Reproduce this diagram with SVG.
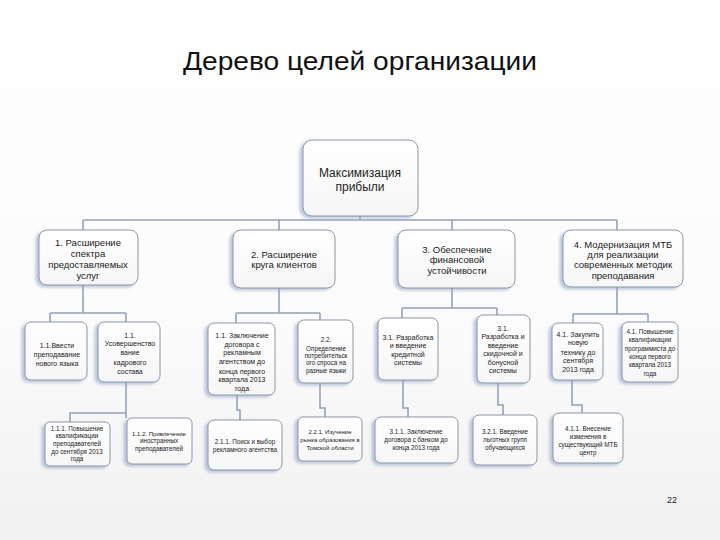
<svg xmlns="http://www.w3.org/2000/svg" width="720" height="540" viewBox="0 0 720 540">
<defs>
<linearGradient id="bg" x1="0" y1="0" x2="0" y2="1"><stop offset="0" stop-color="#ffffff"/><stop offset="0.6" stop-color="#fbfbfb"/><stop offset="1" stop-color="#f1f1f1"/></linearGradient>
<linearGradient id="boxfill" x1="0" y1="0" x2="0" y2="1"><stop offset="0" stop-color="#ffffff"/><stop offset="1" stop-color="#f6f6f6"/></linearGradient>
<filter id="sh" x="-20%" y="-20%" width="140%" height="140%"><feDropShadow dx="-3" dy="2" stdDeviation="1.6" flood-color="#8ea3c8" flood-opacity="0.6"/></filter>
</defs>
<style>
.box{fill:url(#boxfill);stroke:#8e97a5;stroke-width:1;filter:url(#sh)}
.con{fill:none;stroke:#93a3ba;stroke-width:1.6}
text{font-family:"Liberation Sans",Arial,sans-serif;fill:#222;text-anchor:middle}
.t0{font-size:12px}
.t1{font-size:9.5px}
.t2{font-size:7px}
.t3{font-size:6.3px}
.t3s{font-size:6px}
.title{font-size:25px;fill:#111}
</style>
<rect width="720" height="540" fill="url(#bg)"/>
<text class="title" x="360" y="70" textLength="354" lengthAdjust="spacingAndGlyphs">Дерево целей организации</text>

<g id="connectors">
<path class="con" d="M360 216V220M83 220H617M83 220V230M279 220V230M452 220V230M617 220V230"/>
<path class="con" d="M83 285V313M50 313H126M50 313V322M126 313V322"/>
<path class="con" d="M126 382V413H70V422M126 413V418"/>
<path class="con" d="M279 288V313M236 313H320M236 313V323M320 313V320"/>
<path class="con" d="M237 395V410H240V420M320 383V408H325V417"/>
<path class="con" d="M452 288V308M402 308H497M402 308V318M497 308V315"/>
<path class="con" d="M403 380V408H408V417M498 383V405H503V415"/>
<path class="con" d="M617 287V314M573 314H648M573 314V323M648 314V322"/>
<path class="con" d="M572 380V405H582V413"/>
</g>

<g id="n0"><rect class="box" x="303" y="140" width="115" height="76" rx="9"/>
<text class="t0" x="360" y="177">Максимизация</text><text class="t0" x="360" y="191">прибыли</text></g>

<g id="n1"><rect class="box" x="39" y="230" width="99" height="55" rx="8"/>
<text class="t1" x="88" y="246">1. Расширение</text><text class="t1" x="88" y="257">спектра</text><text class="t1" x="88" y="268">предоставляемых</text><text class="t1" x="88" y="279">услуг</text></g>

<g id="n2"><rect class="box" x="233" y="230" width="102" height="58" rx="8"/>
<text class="t1" x="284" y="258">2. Расширение</text><text class="t1" x="284" y="268">круга клиентов</text></g>

<g id="n3"><rect class="box" x="398" y="230" width="117" height="58" rx="8"/>
<text class="t1" x="457" y="253">3. Обеспечение</text><text class="t1" x="457" y="263">финансовой</text><text class="t1" x="457" y="274">устойчивости</text></g>

<g id="n4"><rect class="box" x="563" y="230" width="120" height="57" rx="8"/>
<text class="t1" x="623" y="248">4. Модернизация МТБ</text><text class="t1" x="623" y="258">для реализации</text><text class="t1" x="623" y="268">современных методик</text><text class="t1" x="623" y="279">преподавания</text></g>

<g id="n11"><rect class="box" x="25" y="322" width="62" height="58" rx="6"/>
<text class="t2" x="57" y="348">1.1.Ввести</text><text class="t2" x="57" y="357">преподавание</text><text class="t2" x="57" y="366">нового языка</text></g>

<g id="n12"><rect class="box" x="98" y="322" width="62" height="60" rx="6"/>
<text class="t2" x="130" y="338">1.1.</text><text class="t2" x="130" y="346">Усовершенство</text><text class="t2" x="130" y="355">вание</text><text class="t2" x="130" y="365">кадрового</text><text class="t2" x="130" y="374">состава</text></g>

<g id="n21"><rect class="box" x="208" y="323" width="67" height="72" rx="6"/>
<text class="t2" x="242" y="338">1.1. Заключение</text><text class="t2" x="242" y="347">договора с</text><text class="t2" x="242" y="355">рекламным</text><text class="t2" x="242" y="364">агентством до</text><text class="t2" x="242" y="374">конца первого</text><text class="t2" x="242" y="382">квартала 2013</text><text class="t2" x="242" y="391">года</text></g>

<g id="n22"><rect class="box" x="298" y="320" width="55" height="63" rx="6"/>
<text class="t3" x="326" y="342">2.2.</text><text class="t3" x="326" y="351">Определение</text><text class="t3" x="326" y="358">потребительск</text><text class="t3" x="326" y="365">ого спроса на</text><text class="t3" x="326" y="373">разные языки</text></g>

<g id="n31"><rect class="box" x="378" y="318" width="60" height="62" rx="6"/>
<text class="t2" x="408" y="340">3.1. Разработка</text><text class="t2" x="408" y="348">и введение</text><text class="t2" x="408" y="357">кредитной</text><text class="t2" x="408" y="365">системы</text></g>

<g id="n32"><rect class="box" x="477" y="315" width="53" height="68" rx="6"/>
<text class="t2" x="503" y="331">3.1.</text><text class="t2" x="503" y="339">Разработка и</text><text class="t2" x="503" y="348">введение</text><text class="t2" x="503" y="356">скидочной и</text><text class="t2" x="503" y="365">бонусной</text><text class="t2" x="503" y="373">системы</text></g>

<g id="n41"><rect class="box" x="552" y="323" width="51" height="57" rx="6"/>
<text class="t2" x="578" y="337">4.1. Закупить</text><text class="t2" x="578" y="345">новую</text><text class="t2" x="578" y="355">технику до</text><text class="t2" x="578" y="363">сентября</text><text class="t2" x="578" y="372">2013 года</text></g>

<g id="n42"><rect class="box" x="622" y="322" width="56" height="60" rx="6"/>
<text class="t3" x="650" y="334">4.1. Повышение</text><text class="t3" x="650" y="342">квалификации</text><text class="t3" x="650" y="351">программиста до</text><text class="t3" x="650" y="359">конца первого</text><text class="t3" x="650" y="367">квартала 2013</text><text class="t3" x="650" y="376">года</text></g>

<g id="n111"><rect class="box" x="45" y="422" width="65" height="44" rx="5"/>
<text class="t3" x="77" y="431">1.1.1. Повышение</text><text class="t3" x="77" y="438">квалификации</text><text class="t3" x="77" y="446">преподавателей</text><text class="t3" x="77" y="454">до сентября 2013</text><text class="t3" x="77" y="461">года</text></g>

<g id="n112"><rect class="box" x="127" y="418" width="65" height="46" rx="5"/>
<text class="t3s" x="159" y="436">1.1.2. Привлечение</text><text class="t3" x="159" y="443">иностранных</text><text class="t3" x="159" y="451">преподавателей</text></g>

<g id="n211"><rect class="box" x="208" y="420" width="74" height="50" rx="6"/>
<text class="t3" x="245" y="444">2.1.1. Поиск и выбор</text><text class="t3" x="245" y="452">рекламного агентства</text></g>

<g id="n221"><rect class="box" x="298" y="417" width="64" height="44" rx="5"/>
<text class="t3s" x="330" y="434">2.2.1. Изучение</text><text class="t3s" x="330" y="442">рынка образования в</text><text class="t3s" x="330" y="450">Томской области</text></g>

<g id="n311"><rect class="box" x="375" y="417" width="83" height="46" rx="6"/>
<text class="t3" x="416" y="434">3.1.1. Заключение</text><text class="t3" x="416" y="442">договора с банком до</text><text class="t3" x="416" y="450">конца 2013 года</text></g>

<g id="n321"><rect class="box" x="473" y="415" width="64" height="50" rx="6"/>
<text class="t3" x="505" y="434">3.2.1. Введение</text><text class="t3" x="505" y="442">льготных групп</text><text class="t3" x="505" y="450">обучающихся</text></g>

<g id="n411"><rect class="box" x="553" y="413" width="70" height="50" rx="6"/>
<text class="t3" x="588" y="431">4.1.1. Внесение</text><text class="t3" x="588" y="439">изменения в</text><text class="t3" x="588" y="447">существующий МТБ</text><text class="t3" x="588" y="455">центр</text></g>

<text x="672" y="503" style="font-size:9px">22</text>
</svg>
